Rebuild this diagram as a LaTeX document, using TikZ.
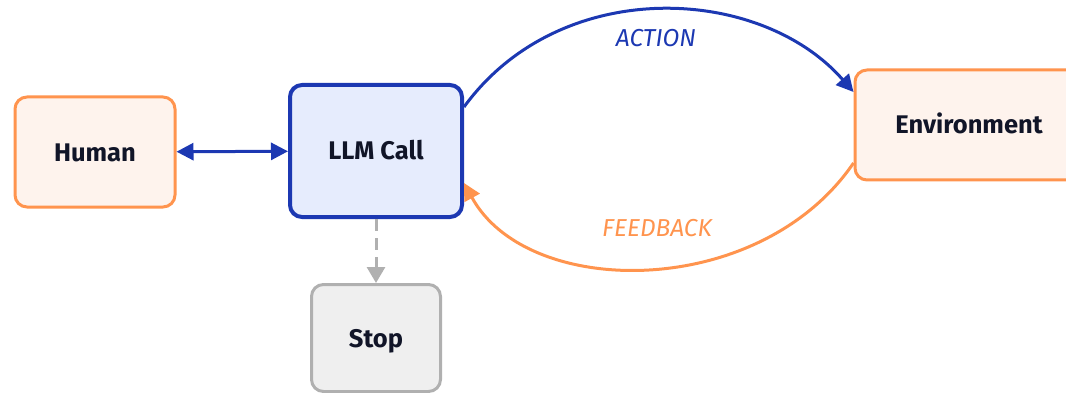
\documentclass[tikz,border=0pt]{standalone}
\usepackage{fontspec}
\setmainfont{Fira Sans}
\usepackage{tikz}
\usetikzlibrary{arrows.meta}
\definecolor{agblue}{RGB}{28,56,178}
\definecolor{agbluefill}{RGB}{230,236,253}
\definecolor{agorange}{RGB}{255,148,78}
\definecolor{agorangefill}{RGB}{254,243,237}
\definecolor{aggray}{RGB}{176,176,176}
\definecolor{aggrayfill}{RGB}{239,239,239}
\definecolor{agtext}{RGB}{17,21,40}

\begin{document}
\begin{tikzpicture}[x=1pt, y=-1pt,
		box/.style={rounded corners=12pt, text=agtext, font=\fontsize{25.5}{28}\selectfont\bfseries,
			text height=18pt, text depth=0pt},
		humanbox/.style={box, draw=agorange, fill=agorangefill, line width=3pt},
		llmbox/.style={box, draw=agblue, fill=agbluefill, line width=4pt},
		stopbox/.style={box, draw=aggray, fill=aggrayfill, line width=3pt},
		tip/.style={-{Triangle[length=17pt,width=17pt]}},
		bluearrow/.style={agblue, line width=3pt, tip},
		orangearrow/.style={agorange, line width=3pt, tip},
		stoparrow/.style={aggray, line width=3pt, dash pattern=on 12pt off 7pt, -{Triangle[length=16pt,width=18pt]}},
		lbl/.style={font=\fontsize{24.5}{28}\selectfont\itshape}]
		
		\useasboundingbox (0,0) rectangle (1066,393);
		
		\node[humanbox, minimum width=160pt, minimum height=110pt] (human) at (95,152) {Human};
		\node[llmbox, minimum width=172pt, minimum height=132pt] (llm) at (376,151) {LLM Call};
		\node[humanbox, minimum width=228pt, minimum height=110pt] (env) at (969,125) {Environment};
		\node[stopbox, minimum width=129pt, minimum height=107pt] (stop) at (376,338) {Stop};
		
		\draw[agblue, line width=3pt, {Triangle[length=17pt,width=17pt]}-{Triangle[length=17pt,width=17pt]}] (human) -- (llm);
		\draw[stoparrow] (llm) -- (stop);
		
		\draw[bluearrow] ([yshift=44pt]llm.east) .. controls (560,-25) and (760,-15) .. ([yshift=33pt]env.west);
		\node[lbl, text=agblue] (action) at (656,38) {ACTION};
		
		\draw[orangearrow] ([yshift=-38pt]env.west) .. controls (760,300) and (528,300) .. ([yshift=-32pt]llm.east);
		\node[lbl, text=agorange] (feedback) at (657,228) {FEEDBACK};
		
	\end{tikzpicture}
\end{document}
